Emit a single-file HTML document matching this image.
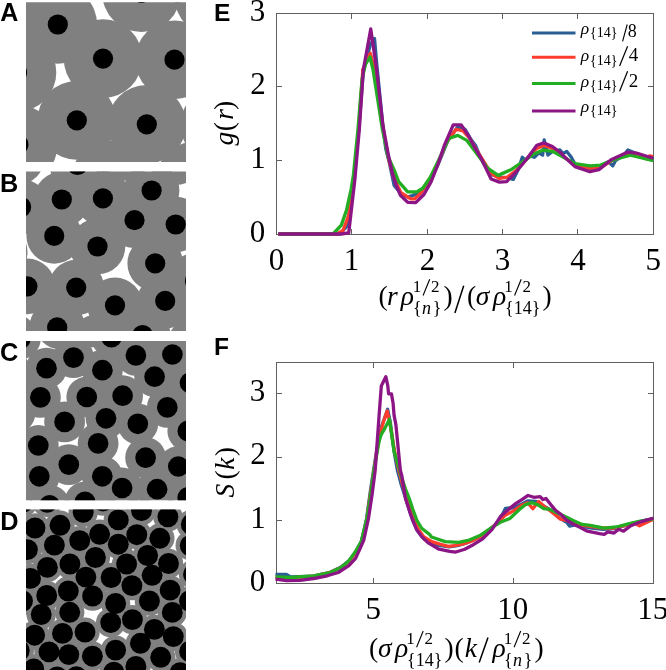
<!DOCTYPE html>
<html><head><meta charset="utf-8"><style>
html,body{margin:0;padding:0;background:#fff;width:666px;height:670px;overflow:hidden}
svg{display:block;will-change:transform}
</style></head><body>
<svg width="666" height="670" viewBox="0 0 666 670"><rect width="666" height="670" fill="#fff"/><clipPath id="clipA"><rect x="26" y="2.2" width="160" height="159.8"/></clipPath><g clip-path="url(#clipA)"><rect x="26" y="2.2" width="160" height="159.8" fill="#fff"/><g fill="#808080"><circle cx="57.8" cy="24.5" r="39.3"/><circle cx="103" cy="58.6" r="39.3"/><circle cx="174.5" cy="59.7" r="39.3"/><circle cx="76.8" cy="120.4" r="39.3"/><circle cx="146.8" cy="124.3" r="39.3"/><circle cx="141.5" cy="-7.2" r="39.3"/><circle cx="17" cy="72.5" r="39.3"/><circle cx="18.4" cy="144.5" r="39.3"/><circle cx="214" cy="-3" r="39.3"/><circle cx="110.4" cy="179.8" r="39.3"/><circle cx="194.9" cy="181.1" r="39.3"/><circle cx="220" cy="125" r="39.3"/></g><g fill="#000"><circle cx="57.8" cy="24.5" r="10.1"/><circle cx="103" cy="58.6" r="10.1"/><circle cx="174.5" cy="59.7" r="10.1"/><circle cx="76.8" cy="120.4" r="10.1"/><circle cx="146.8" cy="124.3" r="10.1"/><circle cx="141.5" cy="-7.2" r="10.1"/><circle cx="17" cy="72.5" r="10.1"/><circle cx="18.4" cy="144.5" r="10.1"/></g></g><clipPath id="clipB"><rect x="26" y="171.5" width="160" height="159.5"/></clipPath><g clip-path="url(#clipB)"><rect x="26" y="171.5" width="160" height="159.5" fill="#fff"/><g fill="#808080"><circle cx="61.8" cy="199.5" r="27.8"/><circle cx="102.9" cy="198.4" r="27.8"/><circle cx="151.6" cy="190.5" r="27.8"/><circle cx="134.5" cy="220.2" r="27.8"/><circle cx="175.7" cy="224.5" r="27.8"/><circle cx="54.2" cy="235.9" r="27.8"/><circle cx="97.5" cy="246.5" r="27.8"/><circle cx="155.2" cy="263.4" r="27.8"/><circle cx="76.2" cy="287.6" r="27.8"/><circle cx="115" cy="305.4" r="27.8"/><circle cx="165.2" cy="300.8" r="27.8"/><circle cx="57.2" cy="327.3" r="27.8"/><circle cx="142.6" cy="335" r="27.8"/><circle cx="27.4" cy="286.4" r="27.8"/><circle cx="21.1" cy="207" r="27.8"/><circle cx="77.5" cy="165" r="27.8"/><circle cx="195" cy="281" r="27.8"/><circle cx="176" cy="157" r="27.8"/><circle cx="17" cy="157" r="27.8"/><circle cx="124" cy="153" r="27.8"/><circle cx="-0.3" cy="252" r="27.8"/><circle cx="10" cy="340" r="27.8"/><circle cx="97.3" cy="342.3" r="27.8"/><circle cx="195" cy="345" r="27.8"/></g><g fill="#000"><circle cx="61.8" cy="199.5" r="10.1"/><circle cx="102.9" cy="198.4" r="10.1"/><circle cx="151.6" cy="190.5" r="10.1"/><circle cx="134.5" cy="220.2" r="10.1"/><circle cx="175.7" cy="224.5" r="10.1"/><circle cx="54.2" cy="235.9" r="10.1"/><circle cx="97.5" cy="246.5" r="10.1"/><circle cx="155.2" cy="263.4" r="10.1"/><circle cx="76.2" cy="287.6" r="10.1"/><circle cx="115" cy="305.4" r="10.1"/><circle cx="165.2" cy="300.8" r="10.1"/><circle cx="57.2" cy="327.3" r="10.1"/><circle cx="142.6" cy="335" r="10.1"/><circle cx="27.4" cy="286.4" r="10.1"/><circle cx="21.1" cy="207" r="10.1"/><circle cx="77.5" cy="165" r="10.1"/><circle cx="195" cy="281" r="10.1"/></g></g><clipPath id="clipC"><rect x="26" y="341" width="160" height="159.2"/></clipPath><g clip-path="url(#clipC)"><rect x="26" y="341" width="160" height="159.2" fill="#fff"/><g fill="#808080"><circle cx="20.3" cy="338.8" r="20.4"/><circle cx="73.5" cy="357.6" r="20.4"/><circle cx="46.5" cy="368.2" r="20.4"/><circle cx="102.4" cy="370.2" r="20.4"/><circle cx="111.5" cy="337.1" r="20.4"/><circle cx="135.9" cy="355.4" r="20.4"/><circle cx="172.4" cy="354.5" r="20.4"/><circle cx="154.6" cy="376.7" r="20.4"/><circle cx="190" cy="382.8" r="20.4"/><circle cx="40.4" cy="397.4" r="20.4"/><circle cx="86.8" cy="397" r="20.4"/><circle cx="122.6" cy="395.7" r="20.4"/><circle cx="167.3" cy="407.4" r="20.4"/><circle cx="64.6" cy="421.9" r="20.4"/><circle cx="106" cy="418.3" r="20.4"/><circle cx="137.8" cy="423.8" r="20.4"/><circle cx="187.8" cy="431" r="20.4"/><circle cx="38.3" cy="445.5" r="20.4"/><circle cx="98.1" cy="443.4" r="20.4"/><circle cx="145.6" cy="457.7" r="20.4"/><circle cx="68.8" cy="464.6" r="20.4"/><circle cx="178.3" cy="466.5" r="20.4"/><circle cx="39.3" cy="476.3" r="20.4"/><circle cx="102.3" cy="476.3" r="20.4"/><circle cx="122.1" cy="488" r="20.4"/><circle cx="157.1" cy="489.2" r="20.4"/><circle cx="49.6" cy="505.3" r="20.4"/><circle cx="85" cy="501.8" r="20.4"/><circle cx="187.8" cy="497.5" r="20.4"/><circle cx="10" cy="371" r="20.4"/><circle cx="12" cy="386" r="20.4"/><circle cx="15" cy="413" r="20.4"/><circle cx="12" cy="500" r="20.4"/><circle cx="58" cy="328.4" r="20.4"/><circle cx="91" cy="327" r="20.4"/><circle cx="155" cy="326" r="20.4"/><circle cx="105" cy="518" r="20.4"/><circle cx="139" cy="518" r="20.4"/></g><g fill="#000"><circle cx="20.3" cy="338.8" r="10.35"/><circle cx="73.5" cy="357.6" r="10.35"/><circle cx="46.5" cy="368.2" r="10.35"/><circle cx="102.4" cy="370.2" r="10.35"/><circle cx="111.5" cy="337.1" r="10.35"/><circle cx="135.9" cy="355.4" r="10.35"/><circle cx="172.4" cy="354.5" r="10.35"/><circle cx="154.6" cy="376.7" r="10.35"/><circle cx="190" cy="382.8" r="10.35"/><circle cx="40.4" cy="397.4" r="10.35"/><circle cx="86.8" cy="397" r="10.35"/><circle cx="122.6" cy="395.7" r="10.35"/><circle cx="167.3" cy="407.4" r="10.35"/><circle cx="64.6" cy="421.9" r="10.35"/><circle cx="106" cy="418.3" r="10.35"/><circle cx="137.8" cy="423.8" r="10.35"/><circle cx="187.8" cy="431" r="10.35"/><circle cx="38.3" cy="445.5" r="10.35"/><circle cx="98.1" cy="443.4" r="10.35"/><circle cx="145.6" cy="457.7" r="10.35"/><circle cx="68.8" cy="464.6" r="10.35"/><circle cx="178.3" cy="466.5" r="10.35"/><circle cx="39.3" cy="476.3" r="10.35"/><circle cx="102.3" cy="476.3" r="10.35"/><circle cx="122.1" cy="488" r="10.35"/><circle cx="157.1" cy="489.2" r="10.35"/><circle cx="49.6" cy="505.3" r="10.35"/><circle cx="85" cy="501.8" r="10.35"/><circle cx="187.8" cy="497.5" r="10.35"/></g></g><clipPath id="clipD"><rect x="26" y="509.6" width="160" height="160.39999999999998"/></clipPath><g clip-path="url(#clipD)"><rect x="26" y="509.6" width="160" height="160.39999999999998" fill="#fff"/><g fill="#808080"><circle cx="23" cy="502" r="14.7"/><circle cx="47.2" cy="502.3" r="14.7"/><circle cx="83.2" cy="512.3" r="14.7"/><circle cx="103" cy="501" r="14.7"/><circle cx="118.3" cy="519.9" r="14.7"/><circle cx="141.5" cy="510.5" r="14.7"/><circle cx="167.9" cy="516.8" r="14.7"/><circle cx="191.3" cy="524.4" r="14.7"/><circle cx="35" cy="528" r="14.7"/><circle cx="60" cy="525.3" r="14.7"/><circle cx="79.7" cy="540.6" r="14.7"/><circle cx="99.6" cy="534.3" r="14.7"/><circle cx="54.4" cy="545.1" r="14.7"/><circle cx="27.4" cy="549.6" r="14.7"/><circle cx="118.3" cy="544.2" r="14.7"/><circle cx="136.8" cy="534.7" r="14.7"/><circle cx="159.8" cy="538.3" r="14.7"/><circle cx="190.2" cy="545.5" r="14.7"/><circle cx="47.4" cy="567.4" r="14.7"/><circle cx="69.9" cy="564" r="14.7"/><circle cx="95.4" cy="557.5" r="14.7"/><circle cx="126.6" cy="564" r="14.7"/><circle cx="147.6" cy="555.5" r="14.7"/><circle cx="168.5" cy="563.5" r="14.7"/><circle cx="30.5" cy="578.4" r="14.7"/><circle cx="85.9" cy="577.1" r="14.7"/><circle cx="111.1" cy="577.5" r="14.7"/><circle cx="152.1" cy="575.3" r="14.7"/><circle cx="193.5" cy="574.4" r="14.7"/><circle cx="46.7" cy="595.5" r="14.7"/><circle cx="68.3" cy="591" r="14.7"/><circle cx="92.6" cy="596" r="14.7"/><circle cx="22.5" cy="601" r="14.7"/><circle cx="131.9" cy="585.6" r="14.7"/><circle cx="170.1" cy="590.1" r="14.7"/><circle cx="115.6" cy="603.5" r="14.7"/><circle cx="149.4" cy="601" r="14.7"/><circle cx="189.5" cy="601" r="14.7"/><circle cx="41.2" cy="614.5" r="14.7"/><circle cx="69.7" cy="612.3" r="14.7"/><circle cx="110.7" cy="622.6" r="14.7"/><circle cx="132.4" cy="619.6" r="14.7"/><circle cx="172.3" cy="612.4" r="14.7"/><circle cx="34.6" cy="635.2" r="14.7"/><circle cx="62.5" cy="633.4" r="14.7"/><circle cx="85" cy="632.1" r="14.7"/><circle cx="154.4" cy="629.4" r="14.7"/><circle cx="173.3" cy="636.6" r="14.7"/><circle cx="140.4" cy="643.3" r="14.7"/><circle cx="49" cy="651.9" r="14.7"/><circle cx="68.8" cy="654.6" r="14.7"/><circle cx="92.4" cy="656.2" r="14.7"/><circle cx="19.3" cy="650.5" r="14.7"/><circle cx="115.6" cy="650.1" r="14.7"/><circle cx="160.7" cy="657.3" r="14.7"/><circle cx="189.6" cy="651.4" r="14.7"/><circle cx="33.7" cy="669" r="14.7"/><circle cx="57.1" cy="677" r="14.7"/><circle cx="76.4" cy="676.6" r="14.7"/><circle cx="113.8" cy="672.2" r="14.7"/><circle cx="135.9" cy="666.4" r="14.7"/><circle cx="180.1" cy="672.7" r="14.7"/></g><g fill="#000"><circle cx="23" cy="502" r="10.45"/><circle cx="47.2" cy="502.3" r="10.45"/><circle cx="83.2" cy="512.3" r="10.45"/><circle cx="103" cy="501" r="10.45"/><circle cx="118.3" cy="519.9" r="10.45"/><circle cx="141.5" cy="510.5" r="10.45"/><circle cx="167.9" cy="516.8" r="10.45"/><circle cx="191.3" cy="524.4" r="10.45"/><circle cx="35" cy="528" r="10.45"/><circle cx="60" cy="525.3" r="10.45"/><circle cx="79.7" cy="540.6" r="10.45"/><circle cx="99.6" cy="534.3" r="10.45"/><circle cx="54.4" cy="545.1" r="10.45"/><circle cx="27.4" cy="549.6" r="10.45"/><circle cx="118.3" cy="544.2" r="10.45"/><circle cx="136.8" cy="534.7" r="10.45"/><circle cx="159.8" cy="538.3" r="10.45"/><circle cx="190.2" cy="545.5" r="10.45"/><circle cx="47.4" cy="567.4" r="10.45"/><circle cx="69.9" cy="564" r="10.45"/><circle cx="95.4" cy="557.5" r="10.45"/><circle cx="126.6" cy="564" r="10.45"/><circle cx="147.6" cy="555.5" r="10.45"/><circle cx="168.5" cy="563.5" r="10.45"/><circle cx="30.5" cy="578.4" r="10.45"/><circle cx="85.9" cy="577.1" r="10.45"/><circle cx="111.1" cy="577.5" r="10.45"/><circle cx="152.1" cy="575.3" r="10.45"/><circle cx="193.5" cy="574.4" r="10.45"/><circle cx="46.7" cy="595.5" r="10.45"/><circle cx="68.3" cy="591" r="10.45"/><circle cx="92.6" cy="596" r="10.45"/><circle cx="22.5" cy="601" r="10.45"/><circle cx="131.9" cy="585.6" r="10.45"/><circle cx="170.1" cy="590.1" r="10.45"/><circle cx="115.6" cy="603.5" r="10.45"/><circle cx="149.4" cy="601" r="10.45"/><circle cx="189.5" cy="601" r="10.45"/><circle cx="41.2" cy="614.5" r="10.45"/><circle cx="69.7" cy="612.3" r="10.45"/><circle cx="110.7" cy="622.6" r="10.45"/><circle cx="132.4" cy="619.6" r="10.45"/><circle cx="172.3" cy="612.4" r="10.45"/><circle cx="34.6" cy="635.2" r="10.45"/><circle cx="62.5" cy="633.4" r="10.45"/><circle cx="85" cy="632.1" r="10.45"/><circle cx="154.4" cy="629.4" r="10.45"/><circle cx="173.3" cy="636.6" r="10.45"/><circle cx="140.4" cy="643.3" r="10.45"/><circle cx="49" cy="651.9" r="10.45"/><circle cx="68.8" cy="654.6" r="10.45"/><circle cx="92.4" cy="656.2" r="10.45"/><circle cx="19.3" cy="650.5" r="10.45"/><circle cx="115.6" cy="650.1" r="10.45"/><circle cx="160.7" cy="657.3" r="10.45"/><circle cx="189.6" cy="651.4" r="10.45"/><circle cx="33.7" cy="669" r="10.45"/><circle cx="57.1" cy="677" r="10.45"/><circle cx="76.4" cy="676.6" r="10.45"/><circle cx="113.8" cy="672.2" r="10.45"/><circle cx="135.9" cy="666.4" r="10.45"/><circle cx="180.1" cy="672.7" r="10.45"/></g></g><text x="0.15" y="21.20" font-size="25" font-family="Liberation Sans" font-weight="bold" fill="#000" >A</text><text x="0.10" y="191.60" font-size="25.3" font-family="Liberation Sans" font-weight="bold" fill="#000" >B</text><text x="0.05" y="361.00" font-size="25.3" font-family="Liberation Sans" font-weight="bold" fill="#000" >C</text><text x="0.30" y="529.90" font-size="25.3" font-family="Liberation Sans" font-weight="bold" fill="#000" >D</text><text x="214.10" y="21.00" font-size="24.5" font-family="Liberation Sans" font-weight="bold" fill="#000" >E</text><text x="214.10" y="354.70" font-size="24.5" font-family="Liberation Sans" font-weight="bold" fill="#000" >F</text><rect x="276.5" y="13.5" width="377.0" height="221.0" fill="none" stroke="#606060" stroke-width="1"/><line x1="351.5" y1="234.5" x2="351.5" y2="229.0" stroke="#606060" stroke-width="1"/><line x1="351.5" y1="13.5" x2="351.5" y2="19.0" stroke="#606060" stroke-width="1"/><line x1="427.5" y1="234.5" x2="427.5" y2="229.0" stroke="#606060" stroke-width="1"/><line x1="427.5" y1="13.5" x2="427.5" y2="19.0" stroke="#606060" stroke-width="1"/><line x1="502.5" y1="234.5" x2="502.5" y2="229.0" stroke="#606060" stroke-width="1"/><line x1="502.5" y1="13.5" x2="502.5" y2="19.0" stroke="#606060" stroke-width="1"/><line x1="577.5" y1="234.5" x2="577.5" y2="229.0" stroke="#606060" stroke-width="1"/><line x1="577.5" y1="13.5" x2="577.5" y2="19.0" stroke="#606060" stroke-width="1"/><line x1="276.5" y1="160.5" x2="282.0" y2="160.5" stroke="#606060" stroke-width="1"/><line x1="653.5" y1="160.5" x2="648.0" y2="160.5" stroke="#606060" stroke-width="1"/><line x1="276.5" y1="86.5" x2="282.0" y2="86.5" stroke="#606060" stroke-width="1"/><line x1="653.5" y1="86.5" x2="648.0" y2="86.5" stroke="#606060" stroke-width="1"/><polyline points="278.38,234.00 339.84,234.00 346.62,226.62 351.90,197.12 358.69,130.75 363.21,71.75 370.37,44.46 374.52,38.56 376.78,64.38 382.81,124.85 385.83,149.19 389.60,163.94 394.12,185.32 400.91,193.44 407.70,197.12 412.22,195.65 419.76,192.70 429.56,180.90 438.61,163.20 447.66,141.07 457.46,127.21 465.00,129.28 471.03,139.60 475.56,145.50 478.57,152.88 483.85,163.94 492.14,175.00 500.44,177.21 508.73,177.95 513.26,179.43 517.78,170.57 522.30,157.30 525.32,160.25 529.84,155.82 534.37,157.30 538.89,152.88 542.66,155.09 544.17,139.89 547.94,155.09 552.46,151.40 556.99,150.66 560.00,149.93 563.02,153.61 566.79,151.40 571.31,157.30 575.08,163.94 585.64,167.62 593.18,169.10 600.72,167.62 608.26,161.72 612.78,165.78 615.80,160.25 623.34,155.82 627.86,149.93 634.65,152.88 642.19,155.82 653.12,158.78" fill="none" stroke="#2a5f96" stroke-width="3.3" stroke-linejoin="round" stroke-linecap="butt"/><polyline points="278.38,234.00 336.82,234.00 343.08,230.31 348.88,214.82 354.16,180.16 358.69,129.64 362.83,69.54 370.37,53.31 376.03,75.44 382.81,127.06 388.09,156.56 393.37,176.47 400.91,192.70 410.71,198.97 414.48,198.97 421.27,192.70 429.56,179.43 438.61,161.72 446.90,141.81 455.95,129.42 462.74,130.75 469.52,138.12 475.56,148.45 483.85,161.72 491.39,173.53 499.46,178.47 507.22,177.21 516.27,170.57 526.83,158.78 536.63,148.45 544.17,145.50 552.46,148.45 560.76,154.35 575.08,165.41 589.94,168.07 600.72,167.62 612.03,160.25 627.86,154.35 638.42,155.82 645.96,158.78 649.73,155.82 653.12,156.56" fill="none" stroke="#ff3d2e" stroke-width="3.3" stroke-linejoin="round" stroke-linecap="butt"/><polyline points="278.38,234.00 333.05,234.00 341.34,225.15 346.62,209.66 351.15,189.01 353.41,175.00 357.93,129.64 362.08,79.12 365.47,64.38 370.00,57.00 373.01,69.54 382.44,129.64 388.09,156.56 394.12,169.84 398.65,181.64 407.70,191.96 416.74,191.96 422.78,188.28 430.32,177.21 438.61,160.25 448.71,138.49 457.76,135.40 466.73,140.34 474.80,151.10 487.62,168.14 498.18,175.37 511.52,169.39 522.30,162.17 534.37,153.76 542.66,150.15 552.46,151.33 560.38,155.53 574.93,163.57 589.94,165.78 600.42,165.04 615.50,159.07 630.50,155.24 653.12,160.55" fill="none" stroke="#23ad23" stroke-width="3.3" stroke-linejoin="round" stroke-linecap="butt"/><polyline points="278.38,234.00 341.34,234.00 348.73,232.82 354.84,179.79 359.29,129.64 363.36,69.54 370.75,28.98 376.63,69.54 382.81,124.85 388.32,154.72 392.31,172.79 395.93,184.59 400.46,195.35 407.70,202.29 415.76,202.66 423.91,194.54 431.07,181.86 437.86,164.68 444.19,145.72 453.24,124.92 461.23,124.92 468.54,135.76 474.80,147.71 481.14,158.33 491.09,179.06 499.46,182.15 506.70,181.56 516.27,171.83 527.13,158.55 536.86,145.28 544.02,142.92 552.39,146.53 560.38,152.51 564.38,156.71 574.93,166.59 589.94,171.75 598.91,169.62 611.05,159.73 627.49,152.21 636.46,153.02 653.12,158.26" fill="none" stroke="#8c1585" stroke-width="3.3" stroke-linejoin="round" stroke-linecap="butt"/><line x1="532" y1="33.0" x2="575.5" y2="33.0" stroke="#2a5f96" stroke-width="3"/><line x1="532" y1="57.3" x2="575.5" y2="57.3" stroke="#ff3d2e" stroke-width="3"/><line x1="532" y1="83.4" x2="575.5" y2="83.4" stroke="#23ad23" stroke-width="3"/><line x1="532" y1="111.0" x2="575.5" y2="111.0" stroke="#8c1585" stroke-width="3"/><text x="580.70" y="33.80" font-size="17.5" font-family="Liberation Serif" font-style="italic" fill="#000" >ρ</text><text x="589.95" y="37.40" font-size="14" font-family="Liberation Serif" fill="#000" >{14}</text><text x="580.70" y="60.90" font-size="17.5" font-family="Liberation Serif" font-style="italic" fill="#000" >ρ</text><text x="589.95" y="64.50" font-size="14" font-family="Liberation Serif" fill="#000" >{14}</text><text x="580.70" y="86.90" font-size="17.5" font-family="Liberation Serif" font-style="italic" fill="#000" >ρ</text><text x="589.95" y="90.00" font-size="14" font-family="Liberation Serif" fill="#000" >{14}</text><text x="580.70" y="112.40" font-size="17.5" font-family="Liberation Serif" font-style="italic" fill="#000" >ρ</text><text x="589.95" y="115.40" font-size="14" font-family="Liberation Serif" fill="#000" >{14}</text><line x1="622.6" y1="41.4" x2="627.2" y2="24.5" stroke="#000" stroke-width="1.1"/><text x="627.85" y="37.40" font-size="18" font-family="Liberation Serif" fill="#000" >8</text><line x1="619.6" y1="65.9" x2="627.6" y2="46.3" stroke="#000" stroke-width="1.2"/><text x="628.85" y="60.80" font-size="19" font-family="Liberation Serif" fill="#000" >4</text><line x1="619.6" y1="91.3" x2="627.6" y2="71.2" stroke="#000" stroke-width="1.2"/><text x="628.85" y="86.80" font-size="19" font-family="Liberation Serif" fill="#000" >2</text><text x="249.75" y="241.50" font-size="31" font-family="Liberation Serif" fill="#000" >0</text><text x="250.25" y="167.80" font-size="31" font-family="Liberation Serif" fill="#000" >1</text><text x="250.25" y="94.10" font-size="31" font-family="Liberation Serif" fill="#000" >2</text><text x="249.75" y="20.50" font-size="31" font-family="Liberation Serif" fill="#000" >3</text><text x="268.75" y="269.70" font-size="31" font-family="Liberation Serif" fill="#000" >0</text><text x="343.65" y="269.70" font-size="31" font-family="Liberation Serif" fill="#000" >1</text><text x="419.80" y="269.70" font-size="31" font-family="Liberation Serif" fill="#000" >2</text><text x="494.82" y="269.70" font-size="31" font-family="Liberation Serif" fill="#000" >3</text><text x="570.35" y="269.70" font-size="31" font-family="Liberation Serif" fill="#000" >4</text><text x="645.50" y="269.70" font-size="31" font-family="Liberation Serif" fill="#000" >5</text><g transform="translate(233.3,145.6) rotate(-90)"><text x="0.00" y="0.00" font-size="27.5" font-family="Liberation Serif" font-style="italic" fill="#000" >g</text><text x="14.45" y="0.00" font-size="27.5" font-family="Liberation Serif" fill="#000" >(</text><text x="25.90" y="0.00" font-size="27.5" font-family="Liberation Serif" font-style="italic" fill="#000" >r</text><text x="35.55" y="0.00" font-size="27.5" font-family="Liberation Serif" fill="#000" >)</text></g><text x="378.55" y="304.50" font-size="27.5" font-family="Liberation Serif" fill="#000" >(</text><text x="387.00" y="304.50" font-size="27.5" font-family="Liberation Serif" font-style="italic" fill="#000" >r</text><text x="400.75" y="304.50" font-size="27.5" font-family="Liberation Serif" font-style="italic" fill="#000" >ρ</text><text x="412.80" y="291.80" font-size="17" font-family="Liberation Serif" fill="#000" >1</text><line x1="423.1" y1="295.5" x2="429.7" y2="279.2" stroke="#000" stroke-width="1.1"/><text x="430.95" y="291.80" font-size="17" font-family="Liberation Serif" fill="#000" >2</text><text x="413.10" y="313.80" font-size="18" font-family="Liberation Serif" fill="#000" >{</text><text x="422.05" y="313.80" font-size="18" font-family="Liberation Serif" font-style="italic" fill="#000" >n</text><text x="432.80" y="313.80" font-size="18" font-family="Liberation Serif" fill="#000" >}</text><text x="443.55" y="304.50" font-size="27.5" font-family="Liberation Serif" fill="#000" >)</text><line x1="454.9" y1="313.0" x2="463.7" y2="285.8" stroke="#000" stroke-width="1.5"/><text x="467.05" y="304.50" font-size="27.5" font-family="Liberation Serif" fill="#000" >(</text><text x="475.75" y="304.50" font-size="27.5" font-family="Liberation Serif" font-style="italic" fill="#000" >σ</text><text x="493.05" y="304.50" font-size="27.5" font-family="Liberation Serif" font-style="italic" fill="#000" >ρ</text><text x="504.30" y="291.80" font-size="17" font-family="Liberation Serif" fill="#000" >1</text><line x1="514.6" y1="295.5" x2="521.2" y2="279.2" stroke="#000" stroke-width="1.1"/><text x="522.45" y="291.80" font-size="17" font-family="Liberation Serif" fill="#000" >2</text><text x="505.00" y="313.80" font-size="18" font-family="Liberation Serif" fill="#000" >{14}</text><text x="542.55" y="304.50" font-size="27.5" font-family="Liberation Serif" fill="#000" >)</text><rect x="276.5" y="362.5" width="377.0" height="221.0" fill="none" stroke="#606060" stroke-width="1"/><line x1="373.5" y1="583.5" x2="373.5" y2="578.0" stroke="#606060" stroke-width="1"/><line x1="373.5" y1="362.5" x2="373.5" y2="368.0" stroke="#606060" stroke-width="1"/><line x1="513.5" y1="583.5" x2="513.5" y2="578.0" stroke="#606060" stroke-width="1"/><line x1="513.5" y1="362.5" x2="513.5" y2="368.0" stroke="#606060" stroke-width="1"/><line x1="276.5" y1="520.5" x2="282.0" y2="520.5" stroke="#606060" stroke-width="1"/><line x1="653.5" y1="520.5" x2="648.0" y2="520.5" stroke="#606060" stroke-width="1"/><line x1="276.5" y1="457.5" x2="282.0" y2="457.5" stroke="#606060" stroke-width="1"/><line x1="653.5" y1="457.5" x2="648.0" y2="457.5" stroke="#606060" stroke-width="1"/><line x1="276.5" y1="393.5" x2="282.0" y2="393.5" stroke="#606060" stroke-width="1"/><line x1="653.5" y1="393.5" x2="648.0" y2="393.5" stroke="#606060" stroke-width="1"/><polyline points="275.50,574.46 286.42,574.46 290.62,576.86 313.58,576.10 330.10,572.31 340.74,567.24 348.86,560.91 355.58,552.05 361.18,541.92 366.50,519.13 370.70,488.75 374.62,463.43 377.70,444.44 381.90,425.45 387.64,409.25 390.30,422.29 394.08,451.40 397.30,469.76 401.50,485.59 407.10,502.68 412.70,520.40 418.30,531.79 423.90,538.76 432.30,543.82 440.70,545.72 449.10,546.99 457.50,545.72 465.90,543.19 474.30,539.39 482.70,534.96 491.10,528.63 499.50,520.40 505.38,508.37 513.50,507.74 521.90,503.94 528.06,500.78 535.90,501.41 541.50,504.58 549.90,509.64 558.30,517.24 566.70,522.30 569.50,526.10 575.10,524.83 583.50,526.73 591.90,528.00 603.10,529.26 614.30,528.63 625.50,525.46 636.70,522.30 645.10,520.40 653.50,518.50" fill="none" stroke="#2a5f96" stroke-width="3.3" stroke-linejoin="round" stroke-linecap="butt"/><polyline points="275.50,577.37 290.62,578.00 313.58,576.10 330.10,572.62 340.74,567.88 348.86,561.55 355.58,552.68 361.18,543.19 366.50,521.67 370.70,491.92 374.62,466.60 376.86,450.77 380.50,433.05 383.30,422.29 387.22,410.89 390.30,425.45 394.50,450.77 398.70,469.76 402.90,485.59 407.10,501.41 412.70,517.24 418.30,529.26 423.90,536.86 432.30,541.92 440.70,544.45 448.26,546.35 454.70,545.72 463.10,543.82 471.50,541.29 479.90,536.86 488.30,530.53 496.70,523.57 505.10,515.34 513.50,510.91 521.90,505.21 527.50,502.68 532.82,508.69 538.70,501.41 544.30,506.47 552.70,512.80 560.54,519.13 566.70,520.40 575.10,523.57 583.50,525.46 591.90,526.73 603.10,528.00 614.30,528.00 625.50,525.46 633.90,522.93 639.50,525.78 647.90,521.67 653.50,519.13" fill="none" stroke="#ff3d2e" stroke-width="3.3" stroke-linejoin="round" stroke-linecap="butt"/><polyline points="275.50,576.86 290.62,577.50 313.58,575.79 330.10,572.50 340.74,567.69 348.86,560.91 355.58,551.42 361.18,541.92 366.50,520.40 370.14,498.25 373.22,475.46 376.30,457.10 379.10,441.28 381.34,434.31 384.70,428.62 389.46,419.12 391.70,434.95 394.08,451.40 398.14,464.70 401.50,477.36 405.42,488.75 409.34,498.88 412.70,509.01 416.90,520.40 421.66,528.25 429.50,534.33 431.46,537.05 445.18,541.61 458.62,542.37 469.26,540.02 479.90,535.59 491.94,527.36 500.90,522.05 509.86,518.50 514.62,514.07 519.66,509.32 525.54,504.58 531.70,502.68 537.58,504.58 543.74,508.69 549.62,509.32 555.78,512.30 564.18,515.97 572.58,520.15 582.10,524.39 590.22,525.46 604.22,528.19 616.26,526.98 628.30,523.94 640.34,521.03 652.38,519.13 653.50,519.13" fill="none" stroke="#23ad23" stroke-width="3.3" stroke-linejoin="round" stroke-linecap="butt"/><polyline points="275.50,579.21 286.42,580.60 300.14,580.28 313.58,578.51 327.30,575.79 338.22,572.50 348.86,565.66 355.58,558.38 359.50,549.90 363.70,540.28 368.46,518.50 372.10,494.45 375.18,470.39 379.10,415.32 381.34,385.89 382.74,383.04 385.82,376.71 387.78,385.89 388.62,393.80 391.42,393.80 393.10,403.30 394.08,415.32 395.90,424.82 400.38,470.39 401.78,475.46 405.42,498.25 410.74,514.96 416.34,529.26 421.66,536.60 428.66,543.19 439.02,549.20 449.66,551.42 455.82,552.05 464.78,549.20 473.74,544.45 482.70,538.76 491.94,529.58 500.90,515.97 509.86,508.37 516.02,503.31 521.90,499.70 528.06,495.46 533.94,497.30 540.10,496.66 542.90,499.51 545.98,498.50 550.74,504.58 555.78,510.53 560.54,514.07 566.70,520.15 572.58,523.75 579.86,527.36 587.42,531.16 599.46,533.69 604.22,534.33 607.86,531.79 614.02,533.06 618.78,529.26 623.54,531.16 630.82,525.78 638.10,522.74 645.38,520.40 652.38,518.50 653.50,518.18" fill="none" stroke="#8c1585" stroke-width="3.3" stroke-linejoin="round" stroke-linecap="butt"/><text x="249.75" y="590.60" font-size="31" font-family="Liberation Serif" fill="#000" >0</text><text x="250.25" y="527.50" font-size="31" font-family="Liberation Serif" fill="#000" >1</text><text x="250.25" y="464.40" font-size="31" font-family="Liberation Serif" fill="#000" >2</text><text x="249.75" y="401.30" font-size="31" font-family="Liberation Serif" fill="#000" >3</text><text x="365.50" y="619.00" font-size="31" font-family="Liberation Serif" fill="#000" >5</text><text x="497.25" y="619.00" font-size="31" font-family="Liberation Serif" fill="#000" >10</text><text x="637.25" y="619.00" font-size="31" font-family="Liberation Serif" fill="#000" >15</text><g transform="translate(233.5,497.3) rotate(-90)"><text x="-0.25" y="0.00" font-size="27.5" font-family="Liberation Serif" font-style="italic" fill="#000" >S</text><text x="17.75" y="0.00" font-size="27.5" font-family="Liberation Serif" fill="#000" >(</text><text x="27.45" y="0.00" font-size="27.5" font-family="Liberation Serif" font-style="italic" fill="#000" >k</text><text x="41.05" y="0.00" font-size="27.5" font-family="Liberation Serif" fill="#000" >)</text></g><text x="369.05" y="656.80" font-size="27.5" font-family="Liberation Serif" fill="#000" >(</text><text x="378.05" y="656.80" font-size="27.5" font-family="Liberation Serif" font-style="italic" fill="#000" >σ</text><text x="395.05" y="656.80" font-size="27.5" font-family="Liberation Serif" font-style="italic" fill="#000" >ρ</text><text x="406.30" y="644.00" font-size="17" font-family="Liberation Serif" fill="#000" >1</text><line x1="416.6" y1="647.3" x2="423.2" y2="631" stroke="#000" stroke-width="1.1"/><text x="424.45" y="644.00" font-size="17" font-family="Liberation Serif" fill="#000" >2</text><text x="407.00" y="665.60" font-size="18" font-family="Liberation Serif" fill="#000" >{14}</text><text x="444.55" y="656.80" font-size="27.5" font-family="Liberation Serif" fill="#000" >)</text><text x="454.55" y="656.80" font-size="27.5" font-family="Liberation Serif" fill="#000" >(</text><text x="464.75" y="656.80" font-size="27.5" font-family="Liberation Serif" font-style="italic" fill="#000" >k</text><line x1="479.2" y1="662.5" x2="488" y2="637.5" stroke="#000" stroke-width="1.5"/><text x="492.55" y="656.80" font-size="27.5" font-family="Liberation Serif" font-style="italic" fill="#000" >ρ</text><text x="503.80" y="644.00" font-size="17" font-family="Liberation Serif" fill="#000" >1</text><line x1="514.1" y1="647.3" x2="520.7" y2="631" stroke="#000" stroke-width="1.1"/><text x="521.95" y="644.00" font-size="17" font-family="Liberation Serif" fill="#000" >2</text><text x="504.10" y="665.60" font-size="18" font-family="Liberation Serif" fill="#000" >{</text><text x="513.05" y="665.60" font-size="18" font-family="Liberation Serif" font-style="italic" fill="#000" >n</text><text x="523.80" y="665.60" font-size="18" font-family="Liberation Serif" fill="#000" >}</text><text x="534.55" y="656.80" font-size="27.5" font-family="Liberation Serif" fill="#000" >)</text></svg>
</body></html>
